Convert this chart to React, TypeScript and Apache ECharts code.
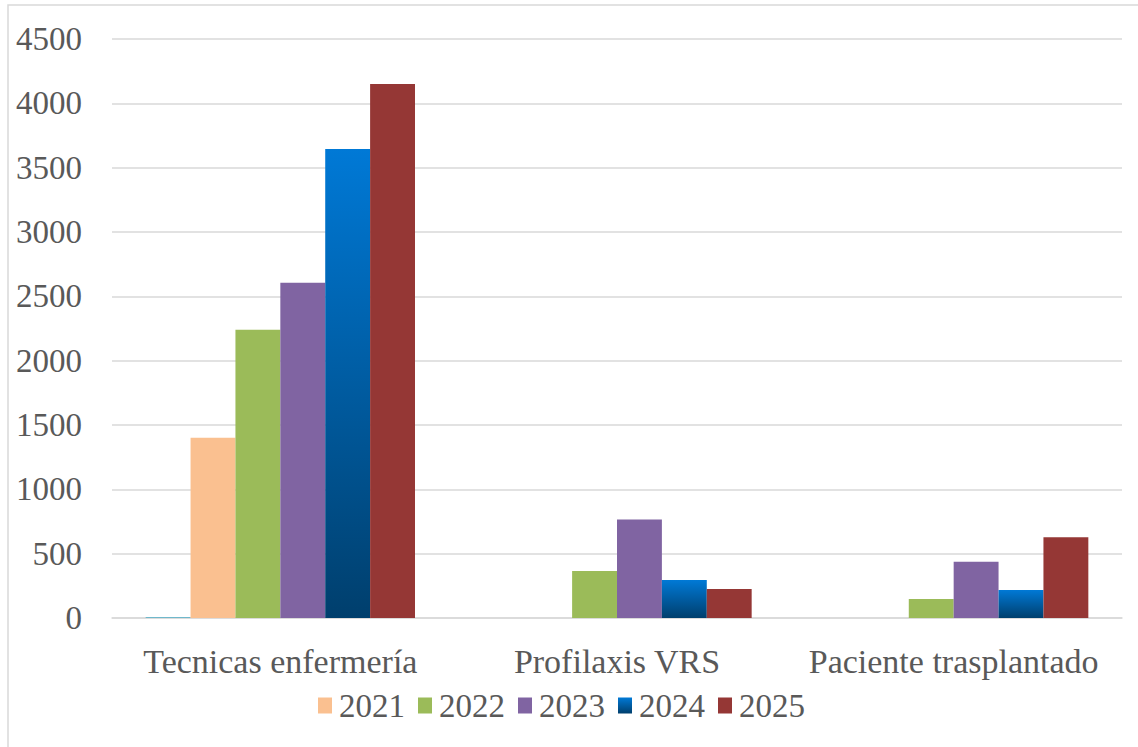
import React, { useEffect, useRef } from "react";
import * as echarts from "echarts";

const categories = ["Tecnicas enfermería", "Profilaxis VRS", "Paciente trasplantado"];
const seriesNames = ["2020", "2021", "2022", "2023", "2024", "2025"];
const values2020 = [6, 0, 0];
const values2021 = [1400, 0, 0];
const values2022 = [2240, 365, 148];
const values2023 = [2605, 765, 437];
const values2024 = [3645, 295, 218];
const values2025 = [4150, 225, 628];
const legendNames = ["2021", "2022", "2023", "2024", "2025"];

const FONT = "Liberation Serif";

export default function App() {
  const ref = useRef<HTMLDivElement>(null);
  useEffect(() => {
    if (!ref.current) return;
    const chart = echarts.init(ref.current, null, { renderer: "svg" });
    const grad = new echarts.graphic.LinearGradient(0, 0, 0, 1, [
      { offset: 0, color: "#0079d6" },
      { offset: 1, color: "#003f6d" },
    ]);
    const colors = ["#4bacc6", "#fac090", "#9bbb59", "#8064a2", grad, "#953735"];
    const data = [values2020, values2021, values2022, values2023, values2024, values2025];
    chart.setOption({
      animation: false,
      backgroundColor: "#ffffff",
      textStyle: { fontFamily: FONT },
      graphic: [
        {
          type: "rect",
          shape: { x: 8, y: 5, width: 1200, height: 800 },
          style: { fill: "none", stroke: "#d9d9d9", lineWidth: 1.5 },
          silent: true,
        },
      ],
      grid: { left: 112, right: 16, top: 39, bottom: 129 },
      legend: {
        data: legendNames,
        top: 689,
        left: 318,
        padding: 0,
        itemWidth: 14,
        itemHeight: 16,
        itemGap: 13,
        icon: "rect",
        textStyle: {
          fontFamily: "Times New Roman",
          fontSize: 33,
          color: "#595959",
          padding: [0, 0, 0, 2],
        },
      },
      xAxis: {
        type: "category",
        data: categories,
        axisLine: { lineStyle: { color: "#d9d9d9", width: 1.5 } },
        axisTick: { show: false },
        axisLabel: { interval: 0, fontFamily: FONT, fontSize: 34, color: "#595959", margin: 26 },
      },
      yAxis: {
        type: "value",
        min: 0,
        max: 4500,
        interval: 500,
        axisLine: { show: false },
        axisTick: { show: false },
        splitLine: { lineStyle: { color: "#d9d9d9", width: 1.5 } },
        axisLabel: {
          fontFamily: FONT,
          fontSize: 33,
          color: "#595959",
          margin: 30,
          formatter: (v: number) => String(v),
        },
      },
      series: seriesNames.map((name, i) => ({
        name,
        type: "bar",
        data: data[i],
        barGap: "0%",
        barCategoryGap: "20%",
        itemStyle: { color: colors[i] },
      })),
    });
    return () => chart.dispose();
  }, []);
  return <div ref={ref} style={{ position: "absolute", left: 0, top: 0, width: 1138, height: 747 }} />;
}
